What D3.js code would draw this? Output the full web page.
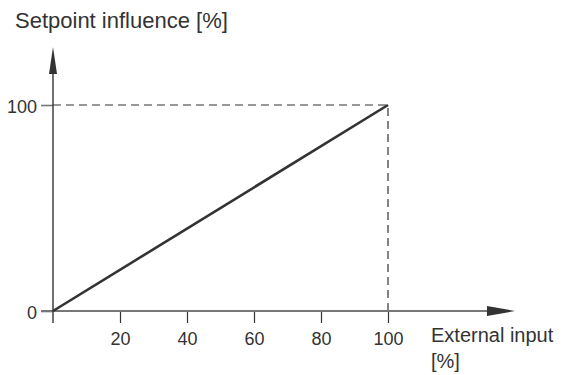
<!DOCTYPE html>
<html><head><meta charset="utf-8">
<script src="https://cdn.jsdelivr.net/npm/d3@7"></script>
<style>body{margin:0;background:#fff;} svg{display:block;} text{font-family:"Liberation Sans",Arial,sans-serif;fill:#333;}</style>
</head><body><div id="chart"></div>
<script>
const xValues = [0, 100];
const yValues = [0, 100];
const xTicks = [20, 40, 60, 80, 100];
const yTicks = [0, 100];
const yTitle = "Setpoint influence [%]";
const xTitle1 = "External input";
const xTitle2 = "[%]";

const W = 570, H = 375;
const svg = d3.select("#chart").append("svg").attr("width", W).attr("height", H);
const x = d3.scaleLinear().domain([0, 100]).range([53, 388]);
const y = d3.scaleLinear().domain([0, 100]).range([311, 105]);

// dashed guides
svg.append("path")
  .attr("d", `M${x(0)},${y(100)}H${x(100)}V${y(0)}`)
  .attr("fill", "none").attr("stroke", "#333").attr("stroke-width", 1.2)
  .attr("stroke-dasharray", "8,5");

// x axis
const xAxis = d3.axisBottom(x).tickValues(xTicks).tickSize(12).tickPadding(6);
const gx = svg.append("g").attr("transform", `translate(0,${y(0)})`).call(xAxis);
gx.select(".domain").remove();
gx.selectAll(".tick line").attr("stroke", "#333").attr("stroke-width", 1.2);
gx.selectAll(".tick text").style("font-size", "18px").attr("fill", "#3a3a3a").attr("dy", "0.9em");
svg.append("line").attr("x1", 41).attr("x2", 490).attr("y1", y(0)).attr("y2", y(0))
  .attr("stroke", "#777").attr("stroke-width", 1.8);
svg.append("path").attr("d", `M487,${y(0)-5}L515,${y(0)}L487,${y(0)+5}Z`).attr("fill", "#333");

// y axis
const yAxis = d3.axisLeft(y).tickValues(yTicks).tickSize(12).tickPadding(4);
const gy = svg.append("g").attr("transform", `translate(${x(0)},0)`).call(yAxis);
gy.select(".domain").remove();
gy.selectAll(".tick line").attr("stroke", "#777").attr("stroke-width", 1.6);
gy.selectAll(".tick text").style("font-size", "18px").attr("fill", "#3a3a3a").attr("dy", "0.42em");
svg.append("line").attr("x1", x(0)).attr("x2", x(0)).attr("y1", 323).attr("y2", 70)
  .attr("stroke", "#333").attr("stroke-width", 1.4);
svg.append("path").attr("d", `M${x(0)-4},74L${x(0)},47L${x(0)+4},74Z`).attr("fill", "#333");

// data line
svg.append("path").datum(xValues.map((v, i) => [v, yValues[i]]))
  .attr("d", d3.line().x(d => x(d[0])).y(d => y(d[1])))
  .attr("fill", "none").attr("stroke", "#333").attr("stroke-width", 2.6);

// titles
svg.append("text").attr("x", 15).attr("y", 28).style("font-size", "22px").text(yTitle);
svg.append("text").attr("x", 431).attr("y", 342).style("font-size", "20px").text(xTitle1);
svg.append("text").attr("x", 431).attr("y", 368).style("font-size", "20px").text(xTitle2);
</script></body></html>
